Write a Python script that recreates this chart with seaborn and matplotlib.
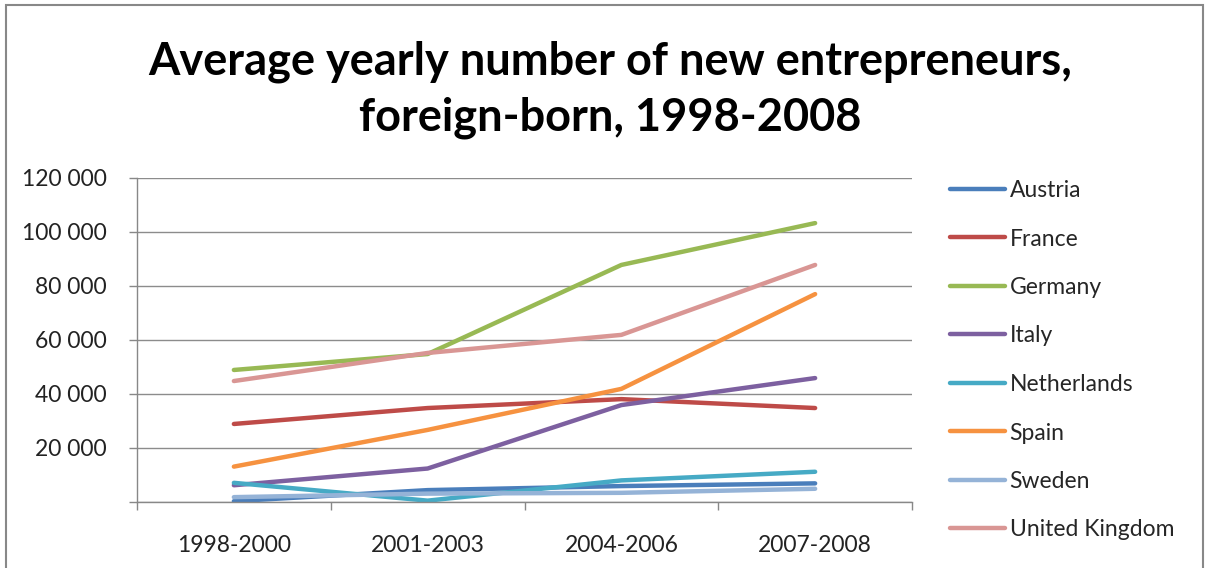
import matplotlib
matplotlib.use("Agg")
import matplotlib.pyplot as plt
import seaborn as sns
import pandas as pd
from matplotlib.patches import Rectangle
from matplotlib.ticker import FixedLocator, FuncFormatter

periods = ["1998-2000", "2001-2003", "2004-2006", "2007-2008"]
countries = ["Austria", "France", "Germany", "Italy", "Netherlands", "Spain", "Sweden", "United Kingdom"]
austria = [300, 4400, 5900, 6900]
france = [28900, 34800, 38100, 34800]
germany = [48900, 54800, 87800, 103300]
italy = [6200, 12400, 35900, 45900]
netherlands = [7100, 500, 8000, 11200]
spain = [13100, 26700, 41900, 77000]
sweden = [1800, 3100, 3400, 4900]
uk = [44800, 55200, 61900, 87800]
yticks = [0, 20000, 40000, 60000, 80000, 100000, 120000]
colors = ["#4A7EBB", "#BE4B48", "#98B954", "#7D60A0", "#46AAC5", "#F69240", "#95B3D7", "#D99694"]

series = [austria, france, germany, italy, netherlands, spain, sweden, uk]
rows = []
for c, vals in zip(countries, series):
    for i, (p, v) in enumerate(zip(periods, vals)):
        rows.append({"country": c, "pos": i, "period": p, "value": v})
df = pd.DataFrame(rows)

sns.set_theme(style="white")
plt.rcParams["font.family"] = ["Lato", "DejaVu Sans"]

fig = plt.figure(figsize=(12.1, 5.68), dpi=100)
ax = fig.add_axes([137/1210, 1-502/568, (912-137)/1210, (502-178)/568])

sns.lineplot(data=df, x="pos", y="value", hue="country", hue_order=countries,
             palette=colors, linewidth=3.2, ax=ax, legend=True, sort=False)

ax.set_xlim(-0.5, 3.5)
ax.set_ylim(0, 120000)
ax.set_xticks(range(len(periods)))
ax.set_xticklabels(periods, fontsize=16.5, color="#222222")
ax.xaxis.set_minor_locator(FixedLocator([-0.5, 0.5, 1.5, 2.5, 3.5]))
ax.tick_params(axis="x", which="major", length=0, pad=24)
ax.tick_params(axis="x", which="minor", length=6, width=1, color="#888888", direction="out", bottom=True)
ax.set_yticks(yticks)
ax.yaxis.set_major_formatter(FuncFormatter(lambda v, p: "" if v == 0 else f"{int(v):,}".replace(",", " ")))
ax.tick_params(axis="y", length=6, width=1, color="#888888", direction="out", left=True, labelsize=16.5, labelcolor="#222222", pad=16)
ax.grid(axis="y", color="#8c8c8c", linewidth=1)
ax.grid(axis="x", visible=False)
ax.set_axisbelow(True)
for s in ["top", "right"]:
    ax.spines[s].set_visible(False)
for s in ["left", "bottom"]:
    ax.spines[s].set_color("#888888")
    ax.spines[s].set_linewidth(1)
ax.set_xlabel("")
ax.set_ylabel("")

handles, labels = ax.get_legend_handles_labels()
ax.legend_.remove()
for h in handles:
    h.set_linewidth(3.2)
fig.legend(handles, labels, loc="upper left", bbox_to_anchor=(950/1210, 1-180/568),
           frameon=False, fontsize=16.5, labelspacing=1.2, handlelength=2.4,
           handletextpad=0.2, borderaxespad=0, borderpad=0)

fig.text(0.504, 1-62/568, "Average yearly number of new entrepreneurs,", ha="center", va="center",
         fontsize=32.5, fontweight="bold", color="#000000")
fig.text(0.504, 1-118/568, "foreign-born, 1998-2008", ha="center", va="center",
         fontsize=32.5, fontweight="bold", color="#000000")

fig.patches.append(Rectangle((6/1210, -0.1), (1203-6)/1210, 1.1 - 5/568, transform=fig.transFigure,
                             fill=False, edgecolor="#888888", linewidth=1.5))

fig.savefig("out.png", dpi=100)
